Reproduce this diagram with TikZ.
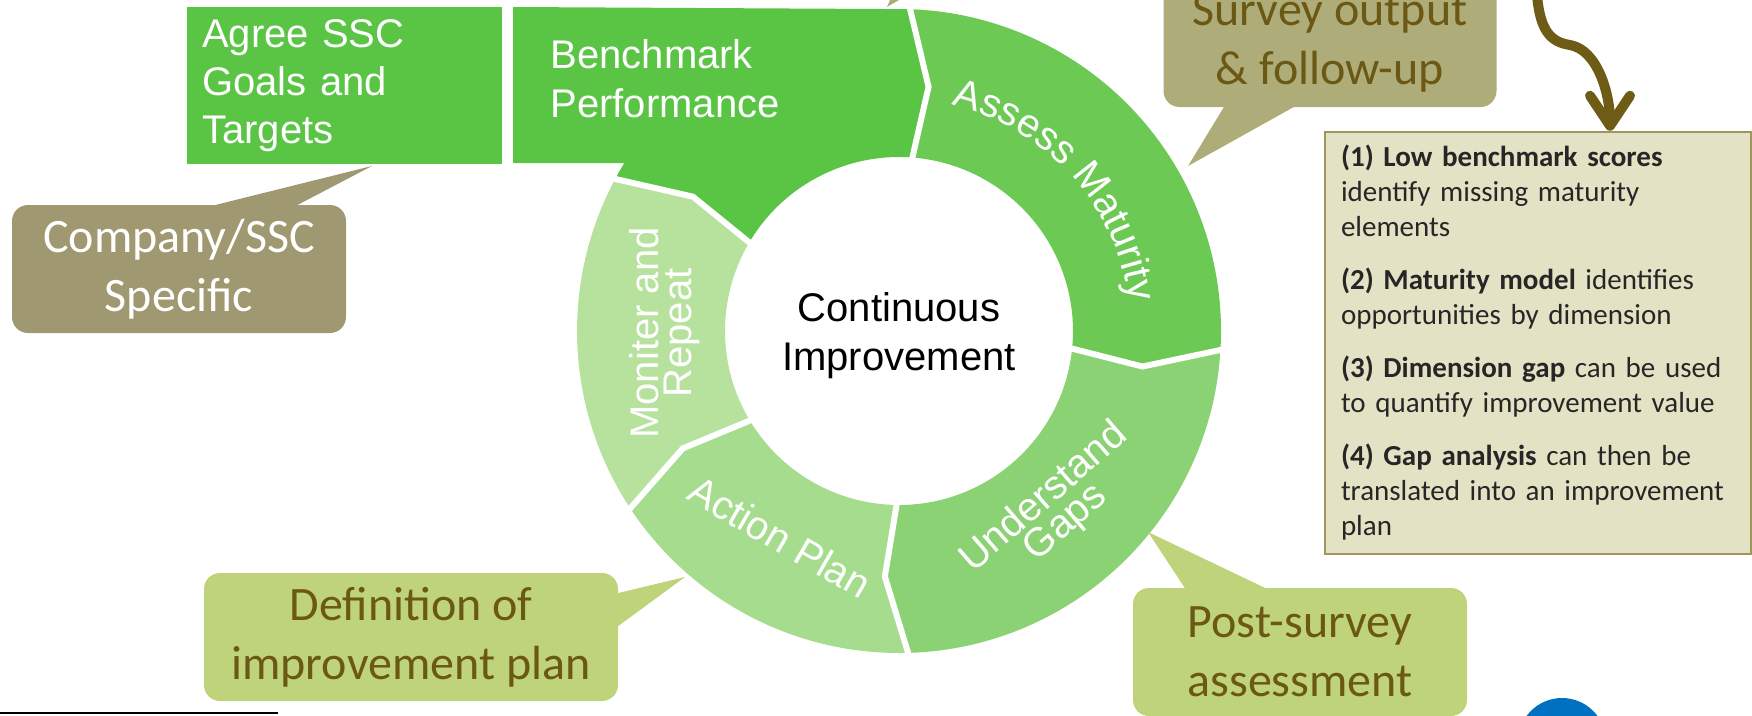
\documentclass[tikz,border=0pt]{standalone}
\usepackage{fontspec}
\setmainfont{Liberation Sans}
\newfontfamily\calfont{Carlito}
\usetikzlibrary{arrows.meta,positioning,decorations.text}

\definecolor{benchgreen}{RGB}{90,196,68}
\definecolor{assessgreen}{RGB}{108,201,84}
\definecolor{gapgreen}{RGB}{139,210,116}
\definecolor{plangreen}{RGB}{166,220,142}
\definecolor{repeatgreen}{RGB}{183,226,158}
\definecolor{khaki}{RGB}{160,152,112}
\definecolor{khakilight}{RGB}{174,172,120}
\definecolor{lime}{RGB}{191,212,122}
\definecolor{olivetext}{RGB}{107,88,20}
\definecolor{olivearrow}{RGB}{110,92,22}
\definecolor{notefill}{RGB}{228,226,196}
\definecolor{noteline}{RGB}{158,150,90}
\definecolor{dotblue}{RGB}{0,112,192}

\newcommand\ringfont{\fontsize{40}{33}\selectfont}

\begin{document}
\begin{tikzpicture}[x=1pt,y=-1pt,
	greenbox/.style={fill=benchgreen,text=white,font=\fontsize{40}{48}\selectfont,align=left,text width=285pt,inner xsep=15pt,minimum height=157pt},
	seg/.style={text=white,font=\ringfont,align=center,inner sep=0pt},
	gap/.style={white,line width=6pt},
	callout/.style={rounded corners=16pt,minimum height=128pt,inner sep=0pt,align=center,font=\calfont\fontsize{48}{59}\selectfont},
	note/.style={draw=noteline,line width=2.5pt,fill=notefill,text=black!85,text width=394pt,inner xsep=16pt,minimum height=422pt,align=left,font=\calfont\fontsize{29}{35}\selectfont}]

\useasboundingbox (0,0) rectangle (1752,715);
\clip (0,0) rectangle (1752,715);

\node[greenbox,anchor=north west] (agree) at (187,7) {Agree SSC\\Goals and\\Targets};

\begin{scope}[shift={(899,331)},y=1pt]
	\fill[benchgreen] (-386,324) -- (88.4:322) -- (83.1:246) -- (86:174) arc[start angle=86,end angle=149.8,radius=174] -- (146.9:246) -- (152.2:322) arc[start angle=152.2,end angle=148.55,radius=322] -- (-386,168) -- cycle;
	\fill[assessgreen] (88.4:322) arc[start angle=88.4,end angle=-3,radius=322] -- (-8.3:246) -- (-5.4:174) arc[start angle=-5.4,end angle=86,radius=174] -- (83.1:246) -- cycle;
	\fill[gapgreen] (-3:322) arc[start angle=-3,end angle=-88,radius=322] -- (-93.3:246) -- (-90.4:174) arc[start angle=-90.4,end angle=-5.4,radius=174] -- (-8.3:246) -- cycle;
	\fill[plangreen] (-88:322) arc[start angle=-88,end angle=-146.2,radius=322] -- (-151.5:246) -- (-148.6:174) arc[start angle=-148.6,end angle=-90.4,radius=174] -- (-93.3:246) -- cycle;
	\fill[repeatgreen] (-146.2:322) arc[start angle=-146.2,end angle=-207.8,radius=322] -- (-213.1:246) -- (-210.2:174) arc[start angle=-210.2,end angle=-148.6,radius=174] -- (-151.5:246) -- cycle;

	\foreach \o/\i/\t in {88.4/86/83.1,-3/-5.4/-8.3,-88/-90.4/-93.3,-146.2/-148.6/-151.5,152.2/149.8/146.9}
		\draw[gap] (\o:330) -- (\t:246) -- (\i:166);

	\node[font=\fontsize{40}{49}\selectfont,align=center] (ci) at (0,-5) {Continuous\\Improvement};
	\node[seg,rotate=41] (gaps) at (-49:238) {Understand\\Gaps};
	\node[seg,rotate=-30] (plan) at (-120:238) {Action Plan};
	\node[seg,rotate=90] (repeat) at (180.5:234) {Moniter and\\Repeat};
	\path[decorate,decoration={text along path,text={|\ringfont|Assess Maturity},text align=center,text color=white}] (84:232) arc[start angle=84,end angle=0,radius=232];
\end{scope}

\node[seg,font=\fontsize{40}{49}\selectfont,align=left,below right=32pt and 48pt of agree.north east] (bench) {Benchmark\\Performance};

\fill[khakilight] (887,7) -- (890,0) -- (899,0) -- cycle;

\node[callout,fill=khaki,text=white,minimum width=334pt] (company) at (179,269) {Company/SSC\\Specific};
\node[callout,fill=khakilight,text=olivetext,minimum width=333pt] (survey) at (1330,43) {Survey output\\\& follow-up};
\node[callout,fill=lime,text=olivetext,minimum width=414pt] (define) at (411,637) {Definition of\\improvement plan};
\node[callout,fill=lime,text=olivetext,minimum width=334pt] (post) at (1300,652) {Post-survey\\assessment};

\coordinate (companytip) at (372,166);
\coordinate (surveytip) at (1188,166);
\coordinate (definetip) at (685,577);
\coordinate (posttip) at (1148,532);
\fill[khaki] ([xshift=29pt,yshift=-2pt]company.north) -- (companytip) -- ([xshift=115pt,yshift=-2pt]company.north) -- cycle;
\fill[khakilight] ([xshift=-105pt,yshift=2pt]survey.south) -- (surveytip) -- ([xshift=-33pt,yshift=2pt]survey.south) -- cycle;
\fill[lime] ([xshift=-2pt,yshift=43.5pt]define.east) -- (definetip) -- ([xshift=-2pt,yshift=9.5pt]define.east) -- cycle;
\fill[lime] ([xshift=-114pt,yshift=-2pt]post.north) -- (posttip) -- ([xshift=-31pt,yshift=-2pt]post.north) -- cycle;

\node[note] (note) at (1538,343) {\textbf{(1) Low benchmark scores}\\identify missing maturity\\elements\\[18pt]\textbf{(2) Maturity model} identifies\\opportunities by dimension\\[18pt]\textbf{(3) Dimension gap} can be used\\to quantify improvement value\\[18pt]\textbf{(4) Gap analysis} can then be\\translated into an improvement\\plan};

\coordinate (arrtop) at (1537,-5);
\draw[olivearrow,line width=10pt,line cap=round,-{Straight Barb[length=30pt,width=40pt,round]}] (arrtop) .. controls (1540,30) and (1550,42) .. (1570,45) .. controls (1598,50) and (1610,95) .. ([xshift=72pt]note.north);

\fill[dotblue] (1562,742) circle[radius=44];
\draw[line width=2pt] (0,713) -- (278,713);

\end{tikzpicture}
\end{document}
